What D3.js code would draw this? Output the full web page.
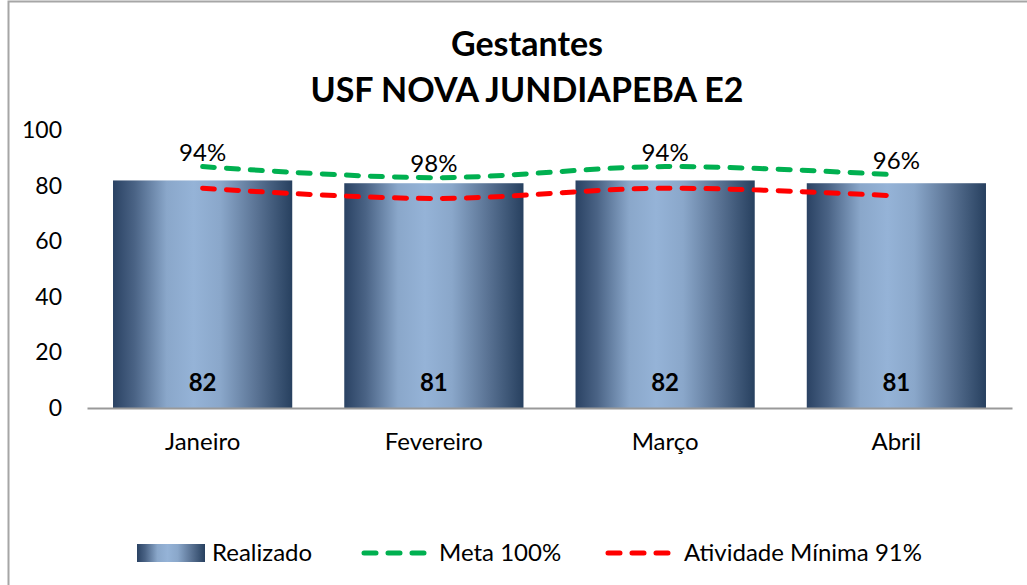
<!DOCTYPE html>
<html>
<head>
<meta charset="utf-8">
<script src="https://cdn.jsdelivr.net/npm/d3@7"></script>
<style>
  body { margin: 0; background: #fff; }
  text { font-family: Lato, "Liberation Sans", sans-serif; }
</style>
</head>
<body>
<div id="chart"></div>
<script>
var months = ["Janeiro", "Fevereiro", "Março", "Abril"];
var realizado = [82, 81, 82, 81];
var meta = [87, 83, 87, 84];
var minima = [79.2, 75.5, 79.2, 76.4];
var pctLabels = ["94%", "98%", "94%", "96%"];
var yTicks = [0, 20, 40, 60, 80, 100];

var W = 1027, H = 585;
var svg = d3.select("#chart").append("svg")
    .attr("width", W)
    .attr("height", H);

// chart frame
svg.append("rect")
    .attr("x", 8.5).attr("y", 1.5)
    .attr("width", 1040).attr("height", 620)
    .attr("fill", "#fff")
    .attr("stroke", "#a6a6a6")
    .attr("stroke-width", 2);

// bar gradient
var grad = svg.append("defs").append("linearGradient")
    .attr("id", "barGrad")
    .attr("x1", "0%").attr("x2", "100%").attr("y1", "0%").attr("y2", "0%");
[[0, "#2a4263"], [0.12, "#4a6385"], [0.3, "#8aa7ca"], [0.45, "#95b3d7"],
 [0.6, "#8aa7ca"], [0.8, "#5a7394"], [1, "#27405f"]].forEach(function(s) {
  grad.append("stop").attr("offset", s[0]).attr("stop-color", s[1]);
});

var x = d3.scaleBand()
    .domain(months)
    .range([87, 1012])
    .paddingInner(0.225)
    .paddingOuter(0.1125);

var y = d3.scaleLinear()
    .domain([0, 100])
    .range([408, 130.5]);

// title
svg.append("text")
    .attr("x", 527).attr("y", 56)
    .attr("text-anchor", "middle")
    .attr("font-size", 34).attr("font-weight", "bold")
    .text("Gestantes");
svg.append("text")
    .attr("x", 527).attr("y", 102)
    .attr("text-anchor", "middle")
    .attr("font-size", 34).attr("font-weight", "bold")
    .text("USF NOVA JUNDIAPEBA E2");

// y axis (labels only)
var yAxis = svg.append("g")
    .attr("transform", "translate(62,0)")
    .call(d3.axisLeft(y).tickValues(yTicks).tickSize(0).tickPadding(0));
yAxis.select(".domain").remove();
yAxis.selectAll("text")
    .attr("font-size", 23)
    .attr("fill", "#000")
    .style("font-family", "Lato, sans-serif");

// bars
svg.selectAll(".bar")
    .data(realizado)
    .enter()
    .append("rect")
      .attr("class", "bar")
      .attr("x", function(d, i) { return x(months[i]); })
      .attr("y", function(d) { return y(d); })
      .attr("width", x.bandwidth())
      .attr("height", function(d) { return y(0) - y(d); })
      .attr("fill", "url(#barGrad)");

// x axis
var xAxis = svg.append("g")
    .attr("transform", "translate(0," + y(0) + ")")
    .call(d3.axisBottom(x).tickSize(0).tickPadding(25));
xAxis.select(".domain")
    .attr("stroke", "#999")
    .attr("stroke-width", 2);
xAxis.selectAll("text")
    .attr("font-size", 24)
    .attr("fill", "#000")
    .style("font-family", "Lato, sans-serif");

// bar value labels
svg.selectAll(".barLabel")
    .data(realizado)
    .enter()
    .append("text")
      .attr("class", "barLabel")
      .attr("x", function(d, i) { return x(months[i]) + x.bandwidth() / 2; })
      .attr("y", y(0) - 17)
      .attr("text-anchor", "middle")
      .attr("font-size", 24)
      .attr("font-weight", "bold")
      .text(function(d) { return d; });

// lines
var line = d3.line()
    .x(function(d, i) { return x(months[i]) + x.bandwidth() / 2; })
    .y(function(d) { return y(d); })
    .curve(d3.curveCatmullRom.alpha(0.5));

svg.append("path")
    .datum(meta)
    .attr("d", line)
    .attr("fill", "none")
    .attr("stroke", "#00b050")
    .attr("stroke-width", 5)
    .attr("stroke-linecap", "round")
    .attr("stroke-dasharray", "12,12");

svg.append("path")
    .datum(minima)
    .attr("d", line)
    .attr("fill", "none")
    .attr("stroke", "#ff0000")
    .attr("stroke-width", 5)
    .attr("stroke-linecap", "round")
    .attr("stroke-dasharray", "12,12");

// percentage labels
svg.selectAll(".pct")
    .data(meta)
    .enter()
    .append("text")
      .attr("class", "pct")
      .attr("x", function(d, i) { return x(months[i]) + x.bandwidth() / 2; })
      .attr("y", function(d) { return y(d) - 6; })
      .attr("text-anchor", "middle")
      .attr("font-size", 24)
      .text(function(d, i) { return pctLabels[i]; });

// legend
var lg = svg.append("g").attr("transform", "translate(0,553)");
lg.append("rect")
    .attr("x", 137).attr("y", -9)
    .attr("width", 68).attr("height", 18)
    .attr("fill", "url(#barGrad)");
lg.append("text")
    .attr("x", 212).attr("y", 8)
    .attr("font-size", 24)
    .text("Realizado");

lg.append("line")
    .attr("x1", 364).attr("x2", 424)
    .attr("stroke", "#00b050").attr("stroke-width", 5)
    .attr("stroke-linecap", "round").attr("stroke-dasharray", "12,12");
lg.append("text")
    .attr("x", 439).attr("y", 8)
    .attr("font-size", 24)
    .text("Meta 100%");

lg.append("line")
    .attr("x1", 608).attr("x2", 668)
    .attr("stroke", "#ff0000").attr("stroke-width", 5)
    .attr("stroke-linecap", "round").attr("stroke-dasharray", "12,12");
lg.append("text")
    .attr("x", 684).attr("y", 8)
    .attr("font-size", 24)
    .text("Atividade Mínima 91%");
</script>
</body>
</html>
